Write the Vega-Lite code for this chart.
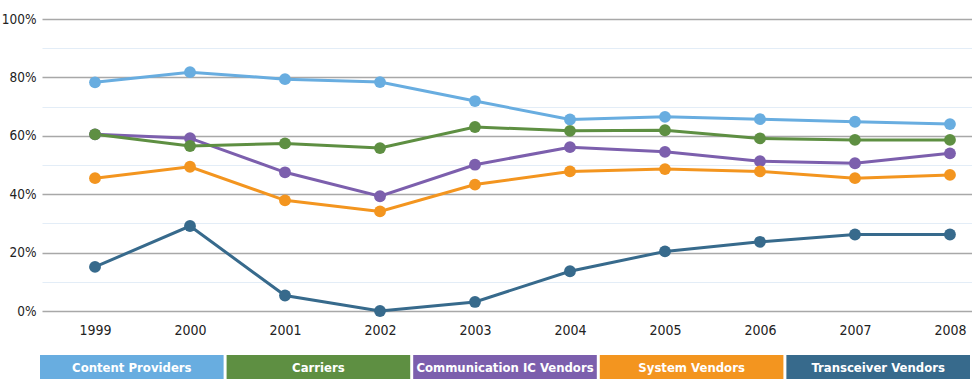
{
  "$schema": "https://vega.github.io/schema/vega-lite/v6.json",
  "padding": {"top": 12, "left": 0, "right": 0, "bottom": 8},
  "background": "white",
  "spacing": 14,
  "config": {
    "view": {"stroke": null},
    "font": "DejaVu Sans Condensed, sans-serif"
  },
  "datasets": {
    "series": [
      {"series": "Communication IC Vendors", "year": 1999, "share": 0.605},
      {"series": "Communication IC Vendors", "year": 2000, "share": 0.592},
      {"series": "Communication IC Vendors", "year": 2001, "share": 0.475},
      {"series": "Communication IC Vendors", "year": 2002, "share": 0.393},
      {"series": "Communication IC Vendors", "year": 2003, "share": 0.501},
      {"series": "Communication IC Vendors", "year": 2004, "share": 0.561},
      {"series": "Communication IC Vendors", "year": 2005, "share": 0.545},
      {"series": "Communication IC Vendors", "year": 2006, "share": 0.513},
      {"series": "Communication IC Vendors", "year": 2007, "share": 0.506},
      {"series": "Communication IC Vendors", "year": 2008, "share": 0.540},
      {"series": "System Vendors", "year": 1999, "share": 0.455},
      {"series": "System Vendors", "year": 2000, "share": 0.494},
      {"series": "System Vendors", "year": 2001, "share": 0.379},
      {"series": "System Vendors", "year": 2002, "share": 0.341},
      {"series": "System Vendors", "year": 2003, "share": 0.433},
      {"series": "System Vendors", "year": 2004, "share": 0.478},
      {"series": "System Vendors", "year": 2005, "share": 0.486},
      {"series": "System Vendors", "year": 2006, "share": 0.478},
      {"series": "System Vendors", "year": 2007, "share": 0.455},
      {"series": "System Vendors", "year": 2008, "share": 0.466},
      {"series": "Transceiver Vendors", "year": 1999, "share": 0.151},
      {"series": "Transceiver Vendors", "year": 2000, "share": 0.291},
      {"series": "Transceiver Vendors", "year": 2001, "share": 0.053},
      {"series": "Transceiver Vendors", "year": 2002, "share": 0.0},
      {"series": "Transceiver Vendors", "year": 2003, "share": 0.031},
      {"series": "Transceiver Vendors", "year": 2004, "share": 0.136},
      {"series": "Transceiver Vendors", "year": 2005, "share": 0.204},
      {"series": "Transceiver Vendors", "year": 2006, "share": 0.237},
      {"series": "Transceiver Vendors", "year": 2007, "share": 0.262},
      {"series": "Transceiver Vendors", "year": 2008, "share": 0.262},
      {"series": "Carriers", "year": 1999, "share": 0.605},
      {"series": "Carriers", "year": 2000, "share": 0.565},
      {"series": "Carriers", "year": 2001, "share": 0.574},
      {"series": "Carriers", "year": 2002, "share": 0.558},
      {"series": "Carriers", "year": 2003, "share": 0.630},
      {"series": "Carriers", "year": 2004, "share": 0.617},
      {"series": "Carriers", "year": 2005, "share": 0.619},
      {"series": "Carriers", "year": 2006, "share": 0.591},
      {"series": "Carriers", "year": 2007, "share": 0.586},
      {"series": "Carriers", "year": 2008, "share": 0.586},
      {"series": "Content Providers", "year": 1999, "share": 0.783},
      {"series": "Content Providers", "year": 2000, "share": 0.818},
      {"series": "Content Providers", "year": 2001, "share": 0.794},
      {"series": "Content Providers", "year": 2002, "share": 0.784},
      {"series": "Content Providers", "year": 2003, "share": 0.719},
      {"series": "Content Providers", "year": 2004, "share": 0.656},
      {"series": "Content Providers", "year": 2005, "share": 0.665},
      {"series": "Content Providers", "year": 2006, "share": 0.657},
      {"series": "Content Providers", "year": 2007, "share": 0.648},
      {"series": "Content Providers", "year": 2008, "share": 0.640}
    ],
    "legend": [
      {"series": "Content Providers"},
      {"series": "Carriers"},
      {"series": "Communication IC Vendors"},
      {"series": "System Vendors"},
      {"series": "Transceiver Vendors"}
    ]
  },
  "vconcat": [
    {
      "width": 930,
      "height": 292,
      "data": {"name": "series"},
      "encoding": {
        "x": {
          "field": "year",
          "type": "quantitative",
          "scale": {"domain": [1998.442, 2008.232], "nice": false, "zero": false},
          "axis": {
            "title": null,
            "values": [1999, 2000, 2001, 2002, 2003, 2004, 2005, 2006, 2007, 2008],
            "format": "d",
            "grid": false,
            "domain": false,
            "ticks": false,
            "labelPadding": 12,
            "labelFontSize": 14,
            "labelColor": "#222",
            "labelFlush": false,
            "minExtent": 30,
            "maxExtent": 30
          }
        },
        "y": {
          "field": "share",
          "type": "quantitative",
          "scale": {"domain": [0, 1], "nice": false},
          "axis": {
            "title": null,
            "values": [0, 0.1, 0.2, 0.3, 0.4, 0.5, 0.6, 0.7, 0.8, 0.9, 1],
            "format": ".0%",
            "labelExpr": "round(datum.value*10) % 2 === 1 ? '' : datum.label",
            "domain": false,
            "ticks": false,
            "grid": true,
            "gridColor": {"condition": {"test": "round(datum.value*10) % 2 === 1", "value": "#e3edf7"}, "value": "#a8a8a8"},
            "gridWidth": {"condition": {"test": "round(datum.value*10) % 2 === 1", "value": 1}, "value": 1.6},
            "labelPadding": 6,
            "labelFontSize": 13.5,
            "labelColor": "#222",
            "labelFlush": false,
            "minExtent": 42,
            "maxExtent": 42
          }
        },
        "color": {
          "field": "series",
          "type": "nominal",
          "scale": {
            "domain": ["Content Providers", "Carriers", "Communication IC Vendors", "System Vendors", "Transceiver Vendors"],
            "range": ["#68ade0", "#5e8f42", "#7c5fad", "#f3951f", "#376a8c"]
          },
          "legend": null
        }
      },
      "layer": [
        {"mark": {"type": "line", "strokeWidth": 3}},
        {"mark": {"type": "point", "filled": true, "opacity": 1, "size": 140, "shape": "circle"}}
      ]
    },
    {
      "width": 930,
      "height": 24,
      "data": {"name": "legend"},
      "encoding": {
        "x": {
          "field": "series",
          "type": "nominal",
          "sort": null,
          "scale": {"range": [-2, 928], "paddingInner": 0.016, "paddingOuter": 0},
          "axis": null
        }
      },
      "layer": [
        {
          "mark": {"type": "rect"},
          "encoding": {
            "color": {
              "field": "series",
              "type": "nominal",
              "scale": {
                "domain": ["Content Providers", "Carriers", "Communication IC Vendors", "System Vendors", "Transceiver Vendors"],
                "range": ["#68ade0", "#5e8f42", "#7c5fad", "#f3951f", "#376a8c"]
              },
              "legend": null
            }
          }
        },
        {
          "mark": {"type": "text", "color": "white", "fontWeight": "bold", "fontSize": 13, "baseline": "middle", "dy": 1},
          "encoding": {"text": {"field": "series"}}
        }
      ]
    }
  ]
}
